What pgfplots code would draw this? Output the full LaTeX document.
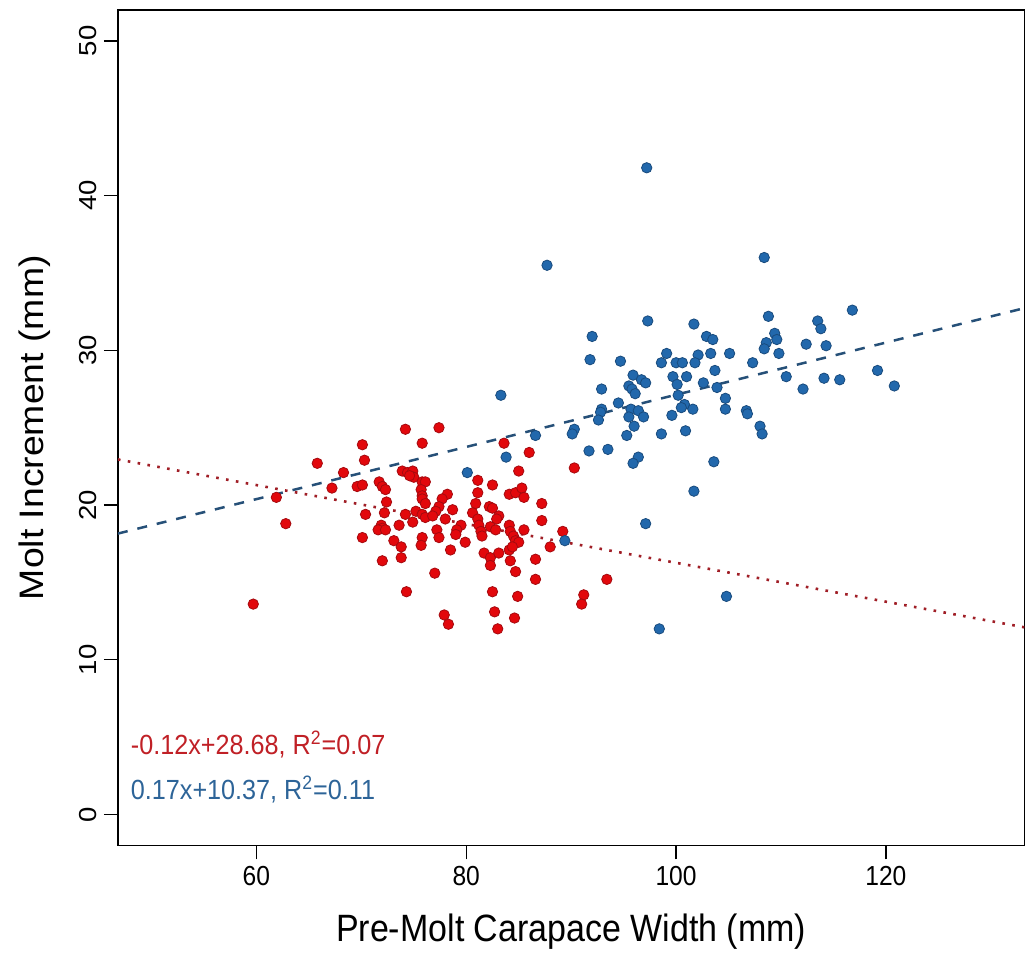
\documentclass[border=0pt]{standalone}
\usepackage{fontspec}
\setmainfont{Liberation Sans}
\usepackage{graphicx}
\usepackage{pgfplots}
\pgfplotsset{compat=1.18}
\usepackage{pgfplotstable}
\definecolor{redpt}{RGB}{226,8,12}
\definecolor{redpte}{RGB}{165,10,15}
\definecolor{bluept}{RGB}{34,104,172}
\definecolor{bluepte}{RGB}{25,75,125}
\definecolor{redln}{RGB}{160,30,38}
\definecolor{blueln}{RGB}{38,80,120}
\definecolor{redtxt}{RGB}{192,32,38}
\definecolor{bluetxt}{RGB}{45,100,152}

\pgfplotstableread{
x y
74.2 24.9
70.1 23.9
75.8 24.0
65.8 22.7
70.3 22.9
68.3 22.1
73.9 22.2
74.4 22.1
74.9 22.2
75.0 21.8
74.6 21.9
75.8 21.5
76.1 21.5
67.2 21.1
69.6 21.2
70.1 21.3
71.7 21.5
72.0 21.2
72.3 21.0
75.7 21.0
75.8 20.6
61.9 20.5
72.4 20.2
75.8 20.4
76.1 20.1
70.4 19.4
72.2 19.5
74.2 19.4
75.2 19.6
75.8 19.4
76.1 19.2
74.9 18.9
73.6 18.7
62.8 18.8
71.9 18.7
72.0 18.5
71.6 18.4
72.3 18.4
70.1 17.9
73.1 17.7
73.8 17.3
75.8 17.9
75.7 17.4
73.8 16.6
72.0 16.4
74.3 14.4
59.7 13.6
77.4 25.0
83.6 24.0
86.0 23.4
90.3 22.4
85.0 22.2
81.1 21.6
82.5 21.3
81.1 20.8
84.1 20.7
84.7 20.8
85.3 21.1
85.5 20.5
78.2 20.7
77.7 20.4
77.4 19.9
77.1 19.6
76.8 19.3
87.2 20.1
80.9 20.1
80.6 19.5
81.1 19.1
81.2 18.7
81.4 18.3
81.5 18.0
82.2 19.9
82.5 19.8
83.1 19.3
82.9 19.1
78.7 19.7
78.0 19.1
87.2 19.0
77.2 18.4
77.4 17.9
79.5 18.7
79.1 18.4
79.0 18.1
82.3 18.6
82.8 18.4
84.1 18.7
84.2 18.3
84.5 18.0
84.7 17.7
85.5 18.4
89.2 18.3
79.9 17.6
88.0 17.3
78.5 17.1
85.0 17.6
84.1 17.1
84.4 17.3
81.7 16.9
82.3 16.6
82.3 16.1
83.1 16.9
84.2 16.4
86.6 16.5
84.7 15.7
77.0 15.6
86.6 15.2
93.4 15.2
82.5 14.4
84.9 14.1
91.2 14.2
91.0 13.6
77.9 12.9
78.3 12.3
82.7 13.1
84.6 12.7
83.0 12.0
}\redpts

\pgfplotstableread{
x y
97.2 41.8
87.7 35.5
108.4 36.0
97.3 31.9
101.7 31.7
92.0 30.9
102.9 30.9
103.5 30.7
91.8 29.4
94.7 29.3
99.1 29.8
98.6 29.2
102.1 29.7
103.3 29.8
105.1 29.8
100.0 29.2
100.6 29.2
101.8 29.2
107.3 29.2
103.7 28.7
95.9 28.4
99.7 28.3
100.1 27.8
101.0 28.3
96.7 28.1
97.1 27.9
95.5 27.7
95.8 27.5
96.1 27.2
92.9 27.5
102.6 27.9
103.9 27.6
100.2 27.1
104.7 26.9
94.5 26.6
100.8 26.5
100.5 26.3
101.6 26.2
92.9 26.2
92.8 26.0
95.7 26.2
96.4 26.1
96.9 25.7
95.5 25.7
104.7 26.2
106.7 26.1
106.8 25.9
92.6 25.5
96.0 25.1
99.6 25.8
90.3 24.9
90.1 24.6
95.3 24.5
98.6 24.6
100.9 24.8
108.0 25.1
108.2 24.6
91.7 23.5
93.5 23.6
96.4 23.1
95.9 22.7
103.6 22.8
101.7 20.9
97.1 18.8
89.4 17.7
104.8 14.1
98.4 12.0
108.8 32.2
116.8 32.6
113.5 31.9
113.8 31.4
109.4 31.1
109.6 30.7
108.6 30.5
108.4 30.1
109.8 29.8
112.4 30.4
114.3 30.3
110.5 28.3
112.1 27.5
114.1 28.2
115.6 28.1
119.2 28.7
120.8 27.7
83.3 27.1
80.1 22.1
83.8 23.1
86.6 24.5
}\bluepts

\begin{document}
\begin{tikzpicture}
\begin{axis}[
  scale only axis,
  width=453.5pt, height=418pt,
  xmin=46.8, xmax=133.2, ymin=-2, ymax=52,
  xtick={60,80,100,120}, ytick={0,10,20,30,40,50},
  xtick pos=bottom, ytick pos=left,
  tick align=outside, major tick length=7pt,
  axis line style={black, line width=0.6pt},
  every tick/.style={black, line width=0.6pt},
  /pgf/number format/assume math mode=true,
  ticklabel style={font=\fontsize{12.3}{14}\selectfont},
  xticklabel={\scalebox{1}[1.12]{\pgfmathprintnumber{\tick}}},
  yticklabel={\scalebox{1.12}[1]{\pgfmathprintnumber{\tick}}},
  yticklabel style={rotate=90, anchor=south},
  xlabel={\scalebox{1}[1.12]{Pre-Molt Carapace Width (mm)}},
  ylabel={\scalebox{1.1}[1]{Molt Increment (mm)}},
  label style={font=\fontsize{17}{20}\selectfont},
  xlabel style={at={(axis description cs:0.5,-0.1029)}, anchor=center},
  ylabel style={at={(axis description cs:-0.0915,0.5)}, anchor=center, rotate=0},
  clip=true,
]
\addplot[only marks, mark=*, mark size=2.6pt, mark options={fill=redpt, draw=redpte, line width=0.4pt}] table[x=x,y=y] {\redpts};
\addplot[only marks, mark=*, mark size=2.6pt, mark options={fill=bluept, draw=bluepte, line width=0.4pt}] table[x=x,y=y] {\bluepts};
\addplot[redln, line width=1.3pt, dash pattern=on 1.3pt off 3.7pt] coordinates {(46.8,22.95) (133.2,12.1)};
\addplot[blueln, line width=1.25pt, dash pattern=on 5pt off 5pt] coordinates {(46.8,18.16) (133.2,32.73)};
\node[anchor=west, inner sep=0pt, text=redtxt, font=\fontsize{12.6}{14}\selectfont] at (axis cs:48.0,4.52) {\scalebox{1}[1.1]{-0.12x+28.68, R\textsuperscript{2}=0.07}};
\node[anchor=west, inner sep=0pt, text=bluetxt, font=\fontsize{12.6}{14}\selectfont] at (axis cs:48.0,1.62) {\scalebox{1}[1.1]{0.17x+10.37, R\textsuperscript{2}=0.11}};
\coordinate (ll) at (rel axis cs:0,0);
\coordinate (ur) at (rel axis cs:1,1);
\end{axis}
\pgfresetboundingbox
\path ([xshift=-59pt,yshift=-54pt]ll) rectangle ([xshift=0.3pt,yshift=5pt]ur);
\end{tikzpicture}
\end{document}
